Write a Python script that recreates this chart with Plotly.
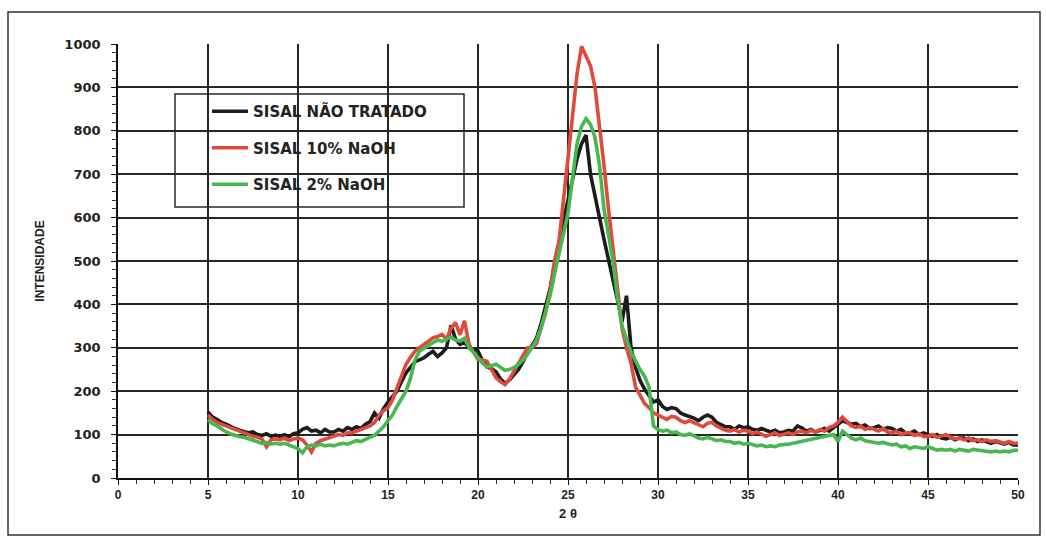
import plotly.graph_objects as go

# 2-theta sampling grid (degrees), 0.25 step from 5 to 50
TWO_THETA = [round(5 + 0.25 * i, 2) for i in range(181)]

SISAL_NT = [
    152, 140, 135, 128, 124, 118, 114, 110, 108, 104, 106, 100,
    98, 102, 96, 99, 96, 100, 95, 102, 104, 112, 116, 108,
    110, 104, 112, 106, 106, 112, 108, 116, 112, 118, 114, 124,
    130, 150, 138, 160, 175, 188, 200, 222, 242, 255, 268, 272,
    277, 285, 292, 280, 288, 300, 352, 320, 308, 312, 300, 296,
    292, 270, 256, 252, 245, 228, 218, 226, 238, 250, 268, 290,
    305, 322, 355, 395, 435, 490, 545, 595, 640, 690, 735, 770,
    790, 700, 645, 600, 550, 505, 455, 410, 360, 420, 300, 255,
    225, 205, 190, 175, 180, 165, 158, 162, 160, 150, 145, 142,
    138, 132, 140, 145, 140, 128, 122, 118, 118, 112, 120, 116,
    118, 112, 110, 114, 110, 106, 110, 104, 106, 110, 108, 120,
    115, 108, 112, 106, 110, 114, 108, 116, 126, 132, 128, 124,
    126, 118, 122, 114, 116, 120, 112, 116, 114, 108, 112, 104,
    104, 108, 100, 104, 100, 96, 100, 92, 90, 94, 88, 92,
    92, 86, 90, 84, 88, 84, 80, 84, 80, 78, 82, 76,
    76,
]

SISAL_10_NAOH = [
    145, 135, 128, 124, 120, 114, 110, 106, 104, 100, 96, 94,
    90, 72, 88, 90, 88, 92, 86, 90, 92, 88, 76, 60,
    80, 86, 90, 94, 96, 100, 98, 104, 104, 108, 112, 116,
    120, 128, 145, 155, 162, 180, 208, 238, 262, 278, 292, 300,
    308, 315, 323, 326, 331, 320, 345, 358, 330, 362, 308, 290,
    273, 272, 269, 250, 231, 222, 215, 228, 246, 262, 282, 300,
    300, 310, 345, 380, 430, 500, 545, 640, 740, 830, 930, 995,
    970, 950, 900, 815, 720, 620, 525, 430, 345, 300, 265, 210,
    190, 172, 162, 150, 145, 140, 135, 142, 140, 132, 128, 132,
    128, 124, 118, 126, 128, 120, 114, 110, 108, 112, 106, 110,
    108, 102, 106, 100, 96, 100, 104, 98, 100, 104, 100, 106,
    108, 104, 110, 106, 112, 108, 116, 120, 128, 140, 130, 120,
    116, 120, 112, 116, 112, 108, 114, 106, 104, 108, 100, 104,
    104, 98, 102, 96, 96, 100, 94, 98, 100, 94, 90, 92,
    88, 92, 86, 88, 84, 88, 84, 86, 84, 80, 84, 80,
    80,
]

SISAL_2_NAOH = [
    135, 125, 120, 112, 106, 102, 98, 95, 94, 90, 88, 84,
    80, 82, 78, 80, 78, 80, 76, 72, 68, 58, 72, 76,
    74, 78, 74, 76, 74, 78, 80, 78, 82, 86, 84, 90,
    94, 98, 108, 118, 132, 145, 165, 182, 200, 230, 272, 292,
    300, 306, 312, 318, 315, 320, 325, 318, 315, 322, 300, 290,
    277, 265, 256, 258, 262, 255, 248, 250, 254, 262, 272, 285,
    300, 318, 345, 380, 420, 470, 520, 565, 610, 690, 770, 810,
    828, 815, 785, 720, 620, 560, 500, 415, 350, 320, 290, 270,
    250, 235, 210, 120, 112, 108, 110, 104, 106, 100, 98, 102,
    96, 92, 90, 94, 90, 86, 88, 84, 84, 80, 82, 78,
    80, 76, 74, 76, 72, 74, 72, 76, 76, 78, 80, 82,
    84, 86, 88, 90, 92, 94, 96, 100, 84, 108, 100, 92,
    88, 92, 86, 84, 84, 80, 82, 78, 76, 78, 72, 74,
    68, 72, 70, 68, 72, 68, 64, 66, 64, 66, 62, 66,
    64, 62, 66, 64, 64, 62, 60, 62, 60, 62, 60, 64,
    64,
]

SERIES = [
    ("SISAL NÃO TRATADO", SISAL_NT, "#1c1c1c"),
    ("SISAL 10% NaOH", SISAL_10_NAOH, "#e04a3c"),
    ("SISAL 2% NaOH", SISAL_2_NAOH, "#47b850"),
]

X_TICKS = [0, 5, 10, 15, 20, 25, 30, 35, 40, 45, 50]
Y_TICKS = [0, 100, 200, 300, 400, 500, 600, 700, 800, 900, 1000]

fig = go.Figure()
for i, (name, vals, color) in enumerate(SERIES):
    fig.add_trace(go.Scatter(
        x=TWO_THETA, y=vals, mode="lines", name=name,
        line=dict(color=color, width=3.6),
        legendgroup="g%d" % i,
    ))

# plot area: x 118..1018, y 44..478
L, R, T, B = 118, 1018, 44, 478
W, H = R - L, B - T

def px(xp):
    return (xp - L) / W

def py(yp):
    return (B - yp) / H

shapes = [
    # outer frame around whole figure
    dict(type="rect", xref="paper", yref="paper",
         x0=px(8), x1=px(1040), y0=py(535), y1=py(12),
         line=dict(color="#333", width=1.5), layer="below"),
    # legend box
    dict(type="rect", xref="paper", yref="paper",
         x0=px(175), x1=px(464), y0=py(207), y1=py(94),
         line=dict(color="#2a2a2a", width=1.5), fillcolor="white", layer="below"),
]

fig.update_layout(
    width=1046, height=536,
    margin=dict(l=L, r=1046 - R, t=T, b=536 - B),
    paper_bgcolor="white", plot_bgcolor="white",
    shapes=shapes,
    legend=dict(
        x=px(207), y=py(95), xanchor="left", yanchor="top",
        bgcolor="rgba(0,0,0,0)", borderwidth=0,
        font=dict(family="DejaVu Sans", size=15, color="#222", weight="bold"),
        tracegroupgap=14, traceorder="grouped", itemwidth=36,
    ),
    xaxis=dict(
        range=[0, 50], tickvals=X_TICKS, ticktext=[str(v) for v in X_TICKS],
        showgrid=True, gridcolor="#262626", gridwidth=1.7,
        showline=True, linecolor="#111", linewidth=1.7,
        ticks="outside", ticklen=5, tickcolor="#111",
        minor=dict(dtick=1, ticks="outside", ticklen=4, tickcolor="#333", showgrid=False),
        tickfont=dict(family="Liberation Sans", size=12, color="#222", weight="bold"),
        title=dict(text="2 θ", standoff=8,
                   font=dict(family="Liberation Sans", size=13, color="#222", weight="bold")),
        zeroline=False, fixedrange=True,
    ),
    yaxis=dict(
        range=[0, 1000], tickvals=Y_TICKS, ticktext=[str(v) for v in Y_TICKS],
        showgrid=True, gridcolor="#262626", gridwidth=1.7,
        showline=True, linecolor="#111", linewidth=1.7,
        ticks="outside", ticklen=5, tickcolor="#111",
        ticklabelstandoff=8,
        minor=dict(dtick=20, ticks="outside", ticklen=4, tickcolor="#333", showgrid=False),
        tickfont=dict(family="DejaVu Sans", size=13, color="#222", weight="bold"),
        title=dict(text="INTENSIDADE", standoff=17,
                   font=dict(family="Liberation Sans", size=12, color="#222", weight="bold")),
        zeroline=False, fixedrange=True,
    ),
)

fig.write_html("out.html")
